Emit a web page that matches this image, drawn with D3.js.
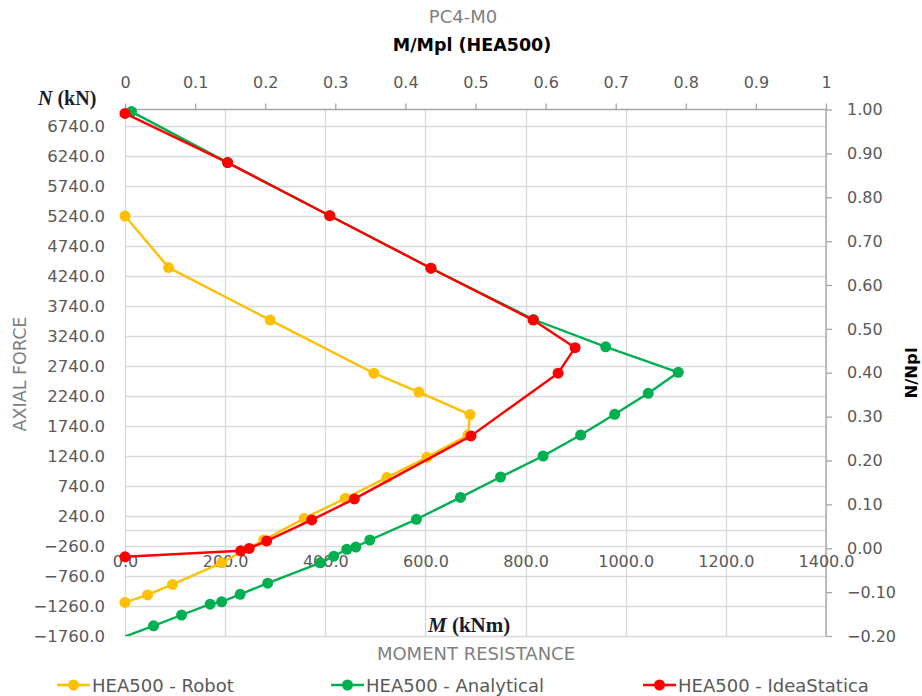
<!DOCTYPE html>
<html>
<head>
<meta charset="utf-8">
<script src="https://cdn.jsdelivr.net/npm/d3@7"></script>
<style>
  html, body { margin: 0; padding: 0; background: #fff; }
  svg { display: block; }
</style>
</head>
<body>
<svg id="chart" width="922" height="696"></svg>
<script>
// ---------- DATA ----------
const robotM = [0, 87, 290, 497, 587, 689, 685, 603, 523, 440, 358, 277, 193, 95, 45, 0];
const robotN = [5240, 4380, 3505, 2620, 2305, 1930, 1590, 1220, 880, 535, 200, -160, -540, -900, -1075, -1200];

const analyticalM = [13, 205, 409, 611, 816, 960, 1105, 1045, 978, 910, 835, 750, 670, 582, 489, 461, 443, 417, 390, 285, 230, 193, 170, 113, 57, -20];
const analyticalN = [6980, 6130, 5245, 4370, 3515, 3060, 2635, 2285, 1935, 1590, 1240, 890, 550, 185, -160, -277, -315, -430, -540, -880, -1065, -1190, -1230, -1410, -1590, -1830];

const ideaM = [0, 205, 409, 611, 815, 899, 865, 691, 458, 373, 283, 248, 231, 0];
const ideaN = [6950, 6130, 5245, 4370, 3505, 3045, 2620, 1575, 525, 175, -175, -300, -340, -440];

const seriesNames = ["HEA500 - Robot", "HEA500 - Analytical", "HEA500 - IdeaStatica"];
const seriesColors = ["#FFC000", "#00B050", "#FF0000"];

const leftTicks = d3.range(-1760, 6741, 500);       // N (kN)
const bottomTicks = d3.range(0, 1401, 200);         // M (kNm)
const topTicks = d3.range(0, 11).map(d => d / 10);  // M/Mpl
const rightTicks = d3.range(-2, 11).map(d => d / 10); // N/Npl

// ---------- LAYOUT ----------
const svg = d3.select("#chart");
const L = 125, R = 826, T = 109.5, B = 636;

const x = d3.scaleLinear().domain([0, 1400]).range([L, R]);
const xTop = d3.scaleLinear().domain([0, 1]).range([L, R]);
const y = d3.scaleLinear().domain([-1760, 7015]).range([B, T]);
const yR = d3.scaleLinear().domain([-0.2, 1]).range([B, T]);

const gridColor = "#D9D9D9";
const axisColor = "#A6A6A6";
const textColor = "#595959";
const font = "'DejaVu Sans', sans-serif";
const serif = "'Liberation Serif', 'Times New Roman', serif";

// Gridlines
const grid = svg.append("g");
grid.selectAll("line.h").data(leftTicks).join("line")
  .attr("x1", L).attr("x2", R)
  .attr("y1", d => Math.round(y(d)) + 0.5).attr("y2", d => Math.round(y(d)) + 0.5)
  .attr("stroke", gridColor).attr("stroke-width", 1.3);
grid.selectAll("line.v").data(bottomTicks).join("line")
  .attr("y1", T).attr("y2", B)
  .attr("x1", d => Math.round(x(d)) + 0.5).attr("x2", d => Math.round(x(d)) + 0.5)
  .attr("stroke", gridColor).attr("stroke-width", 1.3);
// horizontal axis line at N = 0
grid.append("line")
  .attr("x1", L).attr("x2", R)
  .attr("y1", Math.round(y(0)) + 0.5).attr("y2", Math.round(y(0)) + 0.5)
  .attr("stroke", gridColor).attr("stroke-width", 1.3);

// Top axis (M/Mpl)
const topAxis = d3.axisTop(xTop).tickValues(topTicks).tickSize(6).tickFormat(d3.format("~g"));
const gTop = svg.append("g").attr("transform", `translate(0,${T})`).call(topAxis);
gTop.select(".domain").attr("stroke", axisColor).attr("stroke-width", 1.3).attr("d", `M${L},0H${R}`);
gTop.selectAll(".tick line").attr("stroke", axisColor).attr("stroke-width", 1.3);
gTop.selectAll(".tick text").attr("fill", textColor).attr("font-family", font).attr("font-size", 16)
  .attr("y", -22);

// Right axis (N/Npl)
const rightAxis = d3.axisRight(yR).tickValues(rightTicks).tickSize(6).tickFormat(d3.format(".2f"));
const gRight = svg.append("g").attr("transform", `translate(${R},0)`).call(rightAxis);
gRight.select(".domain").attr("stroke", axisColor).attr("stroke-width", 1.3).attr("d", `M0,${T}V${B}`);
gRight.selectAll(".tick line").attr("stroke", axisColor).attr("stroke-width", 1.3);
gRight.selectAll(".tick text").attr("fill", textColor).attr("font-family", font).attr("font-size", 16)
  .attr("x", 21);

// Left axis (N)
const leftAxis = d3.axisLeft(y).tickValues(leftTicks).tickSize(0).tickFormat(d3.format(".1f"));
const gLeft = svg.append("g").attr("transform", `translate(${L},0)`).call(leftAxis);
gLeft.select(".domain").remove();
gLeft.selectAll(".tick text").attr("fill", textColor).attr("font-family", font).attr("font-size", 16.5)
  .attr("x", -20);

// Bottom axis labels (M)
const bottomAxis = d3.axisBottom(x).tickValues(bottomTicks).tickSize(0).tickFormat(d3.format(".1f"));
const gBot = svg.append("g").attr("transform", `translate(0,${y(0)})`).call(bottomAxis);
gBot.select(".domain").remove();
gBot.selectAll(".tick text").attr("fill", textColor).attr("font-family", font).attr("font-size", 16)
  .attr("y", 25);

// ---------- SERIES ----------
svg.append("clipPath").attr("id", "plotclip")
  .append("rect").attr("x", L).attr("y", T - 10).attr("width", R - L).attr("height", B - T + 10);

const series = [
  robotM.map((m, i) => ({ m, n: robotN[i] })),
  analyticalM.map((m, i) => ({ m, n: analyticalN[i] })),
  ideaM.map((m, i) => ({ m, n: ideaN[i] }))
];

const line = d3.line().x(d => x(d.m)).y(d => y(d.n));
[0, 1, 2].forEach(si => {
  const g = svg.append("g");
  g.append("path").datum(series[si])
    .attr("d", line).attr("fill", "none")
    .attr("stroke", seriesColors[si]).attr("stroke-width", 2.4)
    .attr("stroke-linejoin", "round")
    .attr("clip-path", "url(#plotclip)");
  g.selectAll("circle").data(series[si].filter(d => d.m >= 0 && d.n >= -1760)).join("circle")
    .attr("cx", d => x(d.m)).attr("cy", d => y(d.n)).attr("r", 5.5)
    .attr("fill", seriesColors[si]);
});

// ---------- TEXTS ----------
svg.append("text").attr("x", 463).attr("y", 23).attr("text-anchor", "middle")
  .attr("font-family", font).attr("font-size", 18).attr("fill", "#7F7F7F").text("PC4-M0");
svg.append("text").attr("x", 472).attr("y", 51).attr("text-anchor", "middle")
  .attr("font-family", font).attr("font-size", 17.5).attr("font-weight", "bold").attr("fill", "#000")
  .text("M/Mpl (HEA500)");

// N (kN)
const nk = svg.append("text").attr("x", 38).attr("y", 105)
  .attr("font-family", serif).attr("font-size", 20)
  .attr("font-weight", "bold").attr("fill", "#1b1b2f");
nk.append("tspan").attr("font-style", "italic").text("N");
nk.append("tspan").text(" (kN)");

// M (kNm)
const mk = svg.append("text").attr("x", 428).attr("y", 632)
  .attr("font-family", serif).attr("font-size", 21)
  .attr("font-weight", "bold").attr("fill", "#1b1b2f");
mk.append("tspan").attr("font-style", "italic").text("M");
mk.append("tspan").text(" (kNm)");

svg.append("text").attr("x", 476).attr("y", 660).attr("text-anchor", "middle")
  .attr("font-family", font).attr("font-size", 18).attr("fill", "#7F7F7F").text("MOMENT RESISTANCE");

svg.append("text").attr("transform", "translate(26,374) rotate(-90)").attr("text-anchor", "middle")
  .attr("font-family", font).attr("font-size", 17.5).attr("fill", "#7F7F7F").text("AXIAL FORCE");

svg.append("text").attr("transform", "translate(917,373) rotate(-90)").attr("text-anchor", "middle")
  .attr("font-family", font).attr("font-size", 16.5).attr("font-weight", "bold").attr("fill", "#000").text("N/Npl");

// ---------- LEGEND ----------
const legendX = [57, 331, 643];
const legY = 685;
const leg = svg.append("g");
seriesNames.forEach((name, i) => {
  const g = leg.append("g").attr("transform", `translate(${legendX[i]},${legY})`);
  g.append("line").attr("x1", 0).attr("x2", 33).attr("y1", 0).attr("y2", 0)
    .attr("stroke", seriesColors[i]).attr("stroke-width", 2.4);
  g.append("circle").attr("cx", 16.5).attr("cy", 0).attr("r", 5.5).attr("fill", seriesColors[i]);
  g.append("text").attr("x", 35).attr("y", 6.5).attr("font-family", font).attr("font-size", 18)
    .attr("fill", textColor).text(name);
});
</script>
</body>
</html>
